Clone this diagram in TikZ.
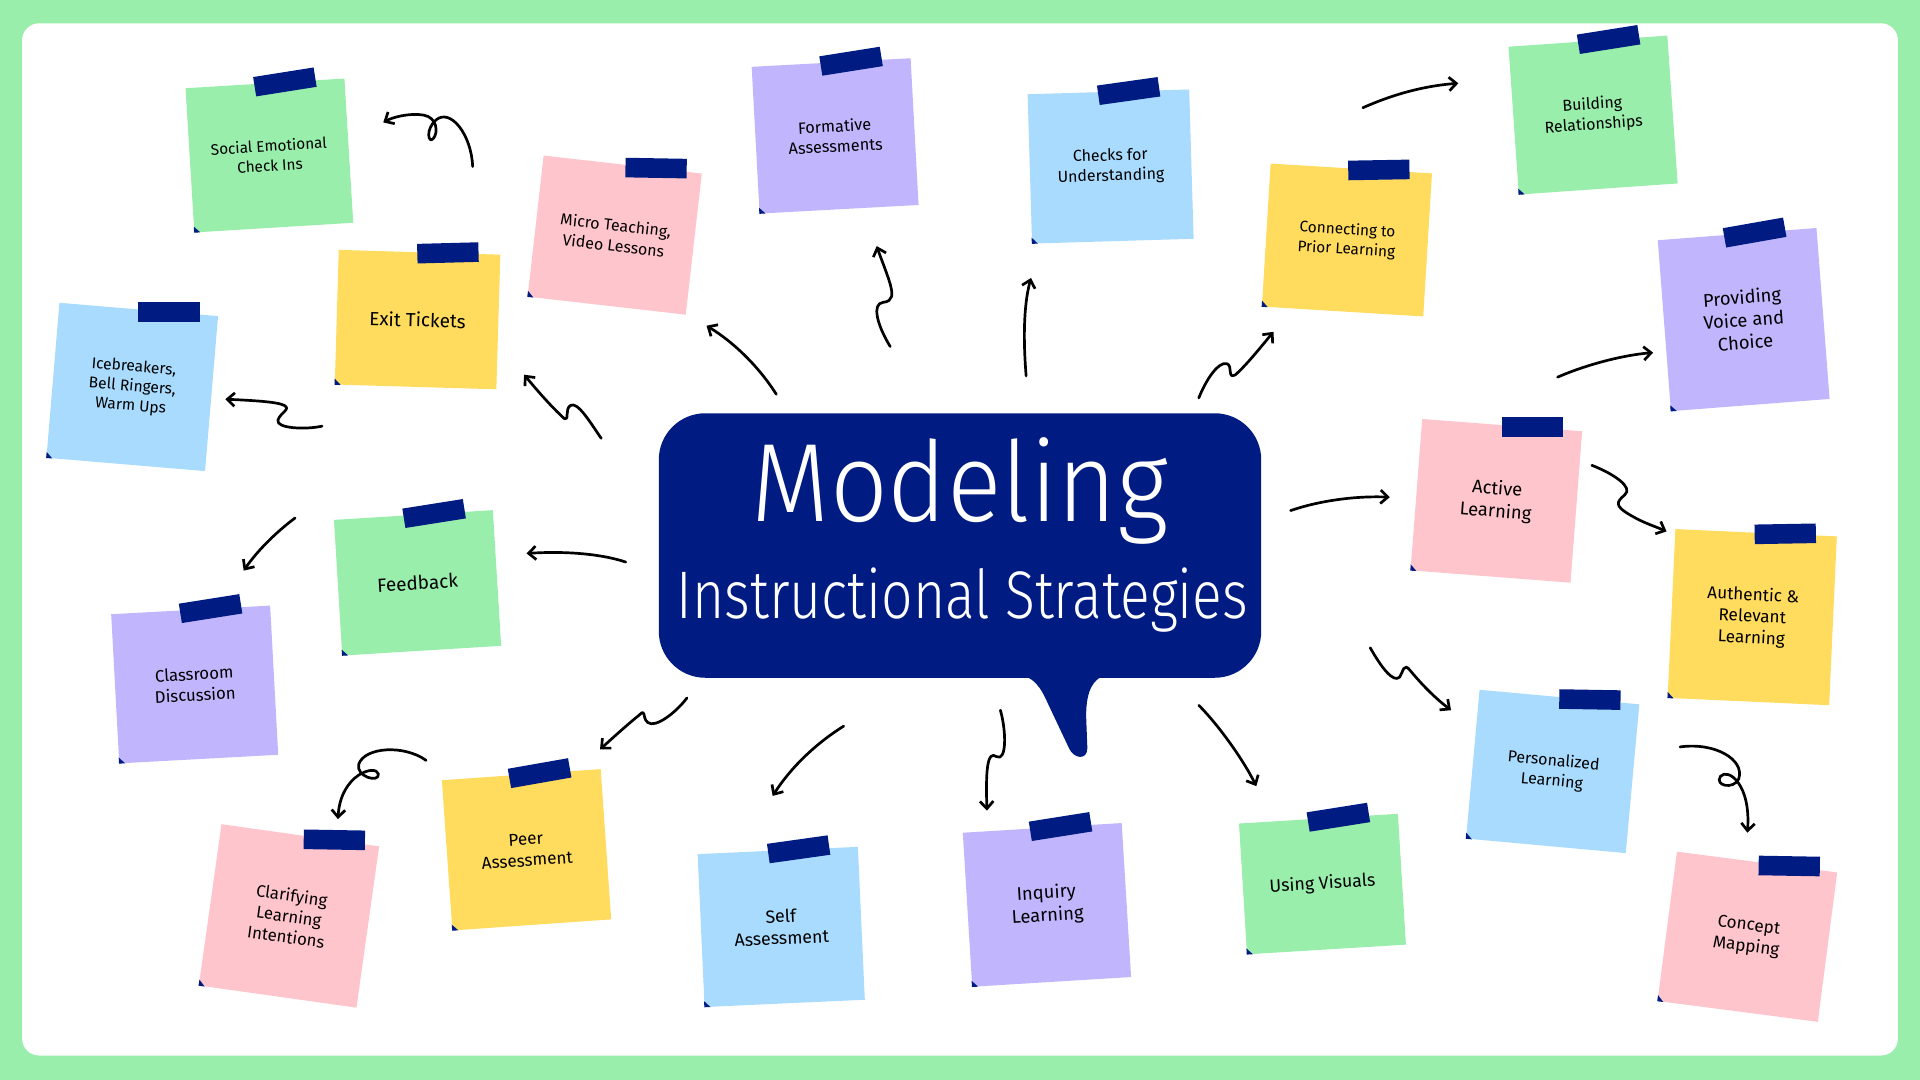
\documentclass[tikz,border=0pt]{standalone}
\usepackage{fontspec}
\setmainfont{Fira Sans}
\newfontfamily\titlefont{Fira Sans Light}[FakeStretch=0.91]
\newfontfamily\subtitlefont{Fira Sans Light}[FakeStretch=0.82]
\usetikzlibrary{arrows.meta,calc}
\definecolor{bggreen}{RGB}{152,238,170}
\definecolor{navy}{RGB}{0,27,130}
\definecolor{ngreen}{RGB}{152,238,170}
\definecolor{nyellow}{RGB}{255,219,94}
\definecolor{npink}{RGB}{255,197,204}
\definecolor{npurple}{RGB}{193,182,253}
\definecolor{nblue}{RGB}{168,219,254}
\tikzset{
  note/.style={rectangle, inner sep=0pt, minimum width=130pt, align=center},
  tapebit/.style={rectangle, fill=navy, inner sep=0pt, minimum width=50pt, minimum height=16pt},
  bubble/.style={rectangle, fill=navy, rounded corners=38pt, minimum width=492pt, minimum height=216pt},
  arr/.style={-{Straight Barb[length=6pt,width=11pt]}, line width=2.2pt},
  every picture/.style={line cap=round, line join=round}
}

\begin{document}
\begin{tikzpicture}[x=1pt,y=-1pt]
  \useasboundingbox (0,0) rectangle (1568,882);
  \fill[bggreen] (0,0) rectangle (1568,882);
  \fill[white, rounded corners=14pt] (18,19) rectangle (1550,862);

  % speech bubble
  \node[bubble] (bubble) at (784,445.5) {};
  \fill[navy] (826,550) .. controls (845,551) and (850,562) .. (856,575) -- (873,611)
    .. controls (877,620) and (888,621) .. (888,611) -- (887,585)
    .. controls (887,563) and (893,551) .. (910,550) -- cycle;
  \node[font=\titlefont\fontsize{91}{91}\selectfont, text=white, anchor=base] (title) at (784,426) {Modeling};
  \node[font=\subtitlefont\fontsize{55}{55}\selectfont, text=white, anchor=base] (subtitle) at (786,505) {Instructional Strategies};

  % sticky notes
  \node[note, fill=ngreen, rotate=3.5, minimum height=118pt, font=\fontsize{12.5}{16}\selectfont] (sel) at (220,127) {Social Emotional\\Check Ins};
  \node[note, fill=nyellow, rotate=-1.7, minimum width=132pt, minimum height=110pt, font=\fontsize{15.5}{19}\selectfont] (exit) at (341,261) {Exit Tickets};
  \node[note, fill=npink, rotate=-6.5, minimum height=116pt, font=\fontsize{13}{16.5}\selectfont] (micro) at (502,192) {Micro Teaching,\\Video Lessons};
  \node[note, fill=npurple, rotate=3.1, minimum height=120pt, font=\fontsize{13.3}{16.5}\selectfont] (formative) at (682,111) {Formative\\Assessments};
  \node[note, fill=nblue, rotate=1.7, minimum width=132pt, minimum height=122pt, font=\fontsize{13}{16.5}\selectfont] (checks) at (907,136) {Checks for\\Understanding};
  \node[note, fill=nyellow, rotate=-3.5, minimum width=132pt, minimum height=117pt, font=\fontsize{12.5}{16}\selectfont] (prior) at (1100,196) {Connecting to\\Prior Learning};
  \node[note, fill=ngreen, rotate=4, minimum height=121pt, font=\fontsize{13}{16.5}\selectfont] (relate) at (1301,94) {Building\\Relationships};
  \node[note, fill=npurple, rotate=4.4, minimum height=140pt, font=\fontsize{15}{18.5}\selectfont] (voice) at (1424,261) {Providing\\Voice and\\Choice};
  \node[note, fill=nblue, rotate=-4.8, minimum height=127pt, font=\fontsize{12.7}{16}\selectfont] (ice) at (108,316) {Icebreakers,\\Bell Ringers,\\Warm Ups};
  \node[note, fill=ngreen, rotate=3.5, minimum height=111pt, font=\fontsize{15.5}{19}\selectfont] (feedback) at (341,476) {Feedback};
  \node[note, fill=npurple, rotate=3.1, minimum height=122pt, font=\fontsize{13.7}{17}\selectfont] (discuss) at (159,559) {Classroom\\Discussion};
  \node[note, fill=npink, rotate=-8, minimum height=133pt, font=\fontsize{13.7}{17}\selectfont] (clarify) at (236,748) {Clarifying\\Learning\\Intentions};
  \node[note, fill=nyellow, rotate=4, minimum height=123pt, font=\fontsize{14}{17.5}\selectfont] (peer) at (430,694) {Peer\\Assessment};
  \node[note, fill=nblue, rotate=2.6, minimum width=131pt, minimum height=125pt, font=\fontsize{14.5}{18}\selectfont] (self) at (638,757) {Self\\Assessment};
  \node[note, fill=npurple, rotate=3.5, minimum height=126pt, font=\fontsize{15}{18.5}\selectfont] (inquiry) at (855,739) {Inquiry\\Learning};
  \node[note, fill=ngreen, rotate=3.5, minimum height=107pt, font=\fontsize{14.5}{18}\selectfont] (visuals) at (1080,722) {Using Visuals};
  \node[note, fill=npink, rotate=-4.4, minimum width=131pt, minimum height=124pt, font=\fontsize{15}{18.5}\selectfont] (active) at (1222,409) {Active\\Learning};
  \node[note, fill=nyellow, rotate=-2.6, minimum width=132pt, minimum height=138pt, font=\fontsize{14}{17.5}\selectfont] (authentic) at (1431,504) {Authentic \&\\Relevant\\Learning};
  \node[note, fill=nblue, rotate=-5.2, minimum width=131pt, minimum height=122pt, font=\fontsize{13}{16.5}\selectfont] (personal) at (1268,630) {Personalized\\Learning};
  \node[note, fill=npink, rotate=-7.4, minimum width=132pt, minimum height=123pt, font=\fontsize{14}{17.5}\selectfont] (concept) at (1427,765) {Concept\\Mapping};

  % tape strips and folded corners
  \foreach \n/\f/\a in {sel/0.25/9, exit/0.35/1.5, micro/0.42/-1, formative/0.25/9,
      checks/0.25/8, prior/0.34/1, relate/0.26/9, voice/0.22/10, ice/0.38/0,
      feedback/0.26/9, discuss/0.25/9, clarify/0.43/-1, peer/0.23/10, self/0.26/8,
      inquiry/0.23/9, visuals/0.25/9, active/0.38/0, authentic/0.36/1,
      personal/0.38/-1, concept/0.4/-1} {
    \node[tapebit, rotate=\a] (\n-tape) at ($(\n.north)!\f!(\n.north east)$) {};
    \fill[navy] (\n.south west) -- ($(\n.south west)!5pt!(\n.north west)$)
      -- ($(\n.south west)!5pt!(\n.south east)$) -- cycle;
  }

  % arrow ends
  \foreach \c/\x/\y in {selA/386/136, selB/313/100, iceA/263/348, iceB/184/326,
      exitA/491/358, exitB/428/306, microA/634/322, microB/577/266,
      formA/727/283, formB/716/201, checkA/838/307, checkB/842/227,
      priorA/979/325, priorB/1040/271, relA/1113/88, relB/1191/68,
      voiceA/1272/308, voiceB/1350/288, actA/1054/417, actB/1135/406,
      authA/1300/380, authB/1361/434, discA/241/423, discB/199/466,
      feedA/511/459, feedB/430/452, peerA/561/570, peerB/490/612,
      clarA/348/621, clarB/276/669, selfA/689/593, selfB/631/650,
      inqA/817/580, inqB/806/662, visA/979/576, visB/1026/642,
      persA/1119/529, persB/1185/580, concA/1372/610, concB/1427/680}
    \coordinate (\c) at (\x,\y);

  % squiggly arrows
  \draw[arr] (selA) .. controls (385,110) and (368,88) .. (356,98) .. controls (347,106) and (350,118) .. (354,113)
    .. controls (358,108) and (357,96) .. (346,94) .. controls (334,92) and (320,96) .. (selB);
  \draw[arr] (iceA) .. controls (250,351) and (225,350) .. (227,343) .. controls (229,337) and (238,334) .. (232,331)
    .. controls (226,328) and (205,327) .. (iceB);
  \draw[arr] (exitA) .. controls (482,345) and (472,328) .. (466,331) .. controls (461,334) and (465,344) .. (461,342)
    .. controls (450,332) and (438,318) .. (exitB);
  \draw[arr] (microA) .. controls (620,300) and (600,280) .. (microB);
  \draw[arr] (formA) .. controls (716,265) and (712,248) .. (721,247) .. controls (730,246) and (729,240) .. (727,232)
    .. controls (724,222) and (719,210) .. (formB);
  \draw[arr] (checkA) .. controls (835,270) and (837,245) .. (checkB);
  \draw[arr] (priorA) .. controls (985,310) and (995,295) .. (1002,297) .. controls (1007,299) and (1002,310) .. (1009,306)
    .. controls (1018,298) and (1030,283) .. (priorB);
  \draw[arr] (relA) .. controls (1140,76) and (1165,70) .. (relB);
  \draw[arr] (voiceA) .. controls (1295,298) and (1325,290) .. (voiceB);
  \draw[arr] (actA) .. controls (1080,408) and (1110,405) .. (actB);
  \draw[arr] (authA) .. controls (1318,387) and (1334,398) .. (1327,404) .. controls (1320,410) and (1318,413) .. (1332,421)
    .. controls (1342,427) and (1352,430) .. (authB);
  \draw[arr] (discA) .. controls (225,435) and (210,450) .. (discB);
  \draw[arr] (feedA) .. controls (490,452) and (460,450) .. (feedB);
  \draw[arr] (peerA) .. controls (552,582) and (535,595) .. (529,590) .. controls (524,586) and (528,578) .. (522,584)
    .. controls (512,592) and (500,603) .. (peerB);
  \draw[arr] (clarA) .. controls (330,608) and (298,610) .. (293,624) .. controls (290,634) and (310,640) .. (309,632)
    .. controls (307,624) and (278,632) .. (clarB);
  \draw[arr] (selfA) .. controls (665,608) and (645,628) .. (selfB);
  \draw[arr] (inqA) .. controls (822,598) and (822,622) .. (814,618) .. controls (806,612) and (805,630) .. (inqB);
  \draw[arr] (visA) .. controls (995,592) and (1015,620) .. (visB);
  \draw[arr] (persA) .. controls (1128,545) and (1138,558) .. (1143,553) .. controls (1146,549) and (1146,540) .. (1152,548)
    .. controls (1162,560) and (1172,570) .. (persB);
  \draw[arr] (concA) .. controls (1400,606) and (1425,620) .. (1420,636) .. controls (1416,645) and (1400,642) .. (1405,634)
    .. controls (1411,627) and (1430,640) .. (concB);
\end{tikzpicture}
\end{document}
